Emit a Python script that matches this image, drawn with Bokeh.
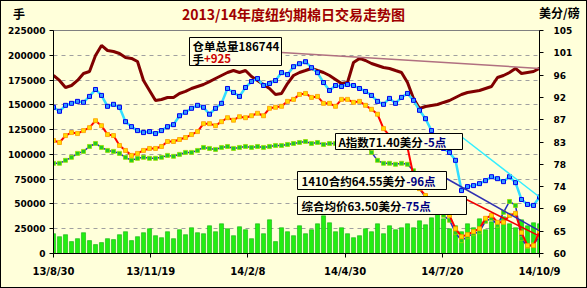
import pandas as pd
from bokeh.plotting import figure
from bokeh.layouts import column
from bokeh.models import Range1d, LinearAxis, FixedTicker, Label, BoxAnnotation, CustomJSTickFormatter, Div
from bokeh.embed import file_html
from bokeh.resources import INLINE

# ---------------- data ----------------
start_date = "2013-08-30"
end_date = "2014-10-09"
sample_step = "5D"

# 仓单总量 (手), left axis
stock = [179600, 174600, 167500, 169500, 174600, 181600, 183600, 199800, 209900, 204800,
         203800, 201800, 197800, 196800, 193700, 174600, 164500, 154400, 155400, 157400,
         157400, 161400, 163500, 166500, 168500, 170500, 173500, 176600, 179600, 182600,
         184600, 182600, 184600, 178600, 174600, 170500, 166500, 160400, 161400, 171500,
         179600, 182600, 184600, 186700, 184600, 182600, 179600, 175600, 171500, 172500,
         192700, 196800, 194700, 191700, 189700, 187700, 186700, 184600, 182600, 172500,
         156400, 146300, 148300, 149300, 150300, 152400, 154400, 157400, 160400, 162400,
         163500, 164500, 166500, 168500, 177600, 179600, 182600, 186700, 181600, 182600,
         183600, 186744]

# A指数 (美分/磅), right axis
a_index = [89.5, 88.7, 89.9, 90.3, 90.7, 90.5, 91.7, 93.1, 91.9, 89.7,
           90.1, 89.5, 86.6, 85.6, 84.8, 84.4, 84.6, 84.2, 84.8, 85.6,
           86.0, 87.8, 88.5, 89.3, 89.9, 89.5, 88.1, 89.3, 90.3, 93.3,
           92.5, 91.7, 93.5, 94.7, 95.3, 93.9, 94.3, 94.9, 96.5, 96.1,
           97.7, 98.3, 98.7, 97.5, 96.5, 94.5, 92.9, 93.9, 93.7, 94.1,
           93.9, 93.3, 92.7, 91.9, 90.7, 90.1, 91.3, 90.3, 91.5, 92.3,
           90.9, 88.9, 87.2, 84.8, 82.8, 81.2, 80.4, 78.8, 72.7, 73.5,
           73.7, 74.1, 74.7, 75.5, 75.1, 74.5, 75.5, 74.3, 70.9, 69.9,
           69.7, 71.40]

# 1410合约 (美分/磅), right axis
c1410 = [82.8, 82.4, 83.8, 84.4, 84.2, 84.8, 85.4, 86.8, 85.8, 84.0,
         83.8, 81.8, 80.8, 79.8, 80.2, 80.8, 81.2, 81.2, 81.6, 82.6,
         82.6, 83.0, 83.4, 84.0, 84.6, 86.2, 86.2, 85.8, 86.6, 87.4,
         86.9, 87.6, 87.4, 87.8, 88.3, 87.8, 89.3, 89.5, 89.7, 90.7,
         91.1, 92.1, 92.3, 91.5, 91.7, 90.3, 90.3, 89.7, 91.1, 91.1,
         90.5, 90.7, 89.9, 89.1, 88.1, 85.2, 83.8, 82.8, 82.2, 81.4,
         75.7, 73.1, 71.7, 70.7, 69.7, 68.7, 67.7, 65.0, 63.4, 63.8,
         64.4, 65.0, 67.1, 67.7, 66.3, 66.3, 67.7, 68.1, 64.2, 61.6,
         61.6, 64.55]

# 综合均价 (美分/磅), right axis
avg_price = [78.2, 78.2, 78.8, 79.4, 80.2, 80.6, 81.6, 82.2, 81.4, 80.8,
             80.6, 80.2, 79.4, 78.8, 79.2, 79.4, 79.2, 79.2, 79.4, 79.8,
             79.6, 80.0, 80.4, 80.4, 80.8, 81.4, 81.2, 81.0, 81.4, 81.6,
             81.2, 81.4, 81.6, 81.4, 81.6, 81.4, 81.6, 81.8, 81.8, 82.0,
             82.2, 82.4, 82.6, 82.2, 82.4, 82.0, 82.2, 82.2, 82.6, 82.6,
             82.4, 82.4, 82.0, 80.4, 78.8, 78.2, 78.2, 78.0, 78.2, 78.0,
             76.7, 73.1, 71.3, 69.7, 68.7, 67.7, 66.7, 64.2, 62.6, 63.4,
             64.0, 64.4, 66.5, 67.1, 65.7, 68.3, 70.5, 69.7, 63.0, 61.4,
             61.8, 63.50]

# 成交量 (手), left axis
volume = [20000, 17000, 19000, 12000, 15000, 21000, 13000, 9000, 11000, 15000,
          14000, 19000, 22000, 13000, 17000, 21000, 25000, 18000, 16000, 22000,
          15000, 24000, 19000, 26000, 21000, 20000, 28000, 22000, 30000, 25000,
          18000, 27000, 24000, 15000, 30000, 20000, 34000, 12000, 26000, 22000,
          18000, 28000, 20000, 24000, 30000, 38000, 31000, 22000, 26000, 20000,
          16000, 18000, 25000, 22000, 30000, 20000, 28000, 24000, 26000, 30000,
          26000, 33000, 29000, 36000, 40000, 35000, 25000, 28000, 22000, 30000,
          26000, 35000, 24000, 32000, 28000, 37000, 30000, 26000, 34000, 28000,
          31000, 30000]

x_tick_dates = ["2013-08-30", "2013-11-19", "2014-02-08", "2014-04-30", "2014-07-20", "2014-10-09"]
x_tick_labels = ["13/8/30", "13/11/19", "14/2/8", "14/4/30", "14/7/20", "14/10/9"]
left_ticks = [0, 25000, 50000, 75000, 100000, 125000, 150000, 175000, 200000, 225000]
left_tick_labels = ["0", "25000", "50000", "75000", "100000", "125000", "150000", "175000", "200000", "225000"]
right_ticks = [60, 64.5, 69, 73.5, 78, 82.5, 87, 91.5, 96, 100.5, 105]
right_tick_labels = ["60", "65", "69", "74", "78", "83", "87", "92", "96", "101", "105"]

title_text = "2013/14年度纽约期棉日交易走势图"
left_unit = "手"
right_unit = "美分/磅"
notes = [
    ("仓单总量186744", "", ""),
    ("手", "+925", "#CC0000"),
    ("A指数71.40美分", "-5点", "#000080"),
    ("1410合约64.55美分", "-96点", "#000080"),
    ("综合均价63.50美分", "-75点", "#000080"),
]

# ---------------- layout ----------------
BG = "#FFFFDA"
BOX_BG = "#FFFFE4"
CJK = "Noto Sans CJK SC"
NUM = "DejaVu Sans"

dates = pd.date_range(start_date, end_date, freq=sample_step)
ms = lambda d: pd.Timestamp(d).value // 10**6
x0, x1 = ms(start_date), ms(end_date)
L_MAX = 225000
R_MIN, R_MAX = 60, 105

# page-pixel frame (for placing annotations)
FL, FR, FT, FB = 53, 539, 30, 253
HEAD = 22          # header strip height (title row)
W = 585
H = 286 - HEAD


def X(px):
    return x0 + (px - FL) / (FR - FL) * (x1 - x0)


def YL(py):
    return (FB - py) / (FB - FT) * L_MAX


def YR(py):
    return R_MIN + (FB - py) / (FB - FT) * (R_MAX - R_MIN)


def text_width(s, fs):
    w = 0.0
    for ch in s:
        if ord(ch) > 0x2E80:
            w += 1.0
        elif ch.isdigit():
            w += 0.6
        elif ch == ".":
            w += 0.3
        elif ch in "+-":
            w += 0.6
        else:
            w += 0.72
    return w * fs


p = figure(width=W, height=H, x_axis_type="datetime",
           x_range=Range1d(x0, x1), y_range=Range1d(0, L_MAX),
           output_backend="svg", toolbar_location=None,
           min_border_left=FL - 1, min_border_right=W - (FR - 1),
           min_border_top=FT - 1 - HEAD, min_border_bottom=H - (FB - 1 - HEAD),
           background_fill_color=BG, border_fill_color=BG,
           outline_line_color="#808080")
p.extra_y_ranges = {"price": Range1d(R_MIN, R_MAX)}


def fmt(tick_values, tick_labels):
    return CustomJSTickFormatter(args=dict(tv=tick_values, tl=tick_labels), code="""
        for (let i = 0; i < tv.length; i++) {
            if (Math.abs(tick - tv[i]) < 1e-6 * Math.max(1, Math.abs(tv[i]))) return tl[i];
        }
        return "";
    """)


def style_axis(ax, size="9px"):
    ax.major_label_text_font = NUM
    ax.major_label_text_font_style = "bold"
    ax.major_label_text_font_size = size
    ax.major_label_text_color = "#000000"
    ax.axis_line_color = "#000000"
    ax.major_tick_line_color = "#000000"
    ax.major_tick_in = 0
    ax.major_tick_out = 4
    ax.minor_tick_line_color = None
    ax.major_label_standoff = 4


xt = [ms(d) for d in x_tick_dates]
p.xaxis.ticker = FixedTicker(ticks=xt)
p.xaxis.formatter = fmt(xt, x_tick_labels)
p.yaxis.ticker = FixedTicker(ticks=left_ticks)
p.yaxis.formatter = fmt(left_ticks, left_tick_labels)
style_axis(p.xaxis[0], "10px")
style_axis(p.yaxis[0])
p.xaxis.major_label_standoff = 8

right = LinearAxis(y_range_name="price", ticker=FixedTicker(ticks=right_ticks),
                   formatter=fmt(right_ticks, right_tick_labels))
style_axis(right)
right.major_label_standoff = 10
p.add_layout(right, "right")

p.xgrid.grid_line_color = None
p.ygrid.ticker = FixedTicker(ticks=left_ticks)
p.ygrid.grid_line_color = "#A0A0A0"
p.ygrid.grid_line_dash = "4 4"
p.ygrid.grid_line_width = 1

# volume bars
day_ms = 86400000
p.vbar(x=dates, top=volume, width=3.4 * day_ms, fill_color="#22EE11", line_color="#10B010", line_width=0.6)

# warehouse stock
p.line(dates, stock, line_color="#800000", line_width=3)

# 综合均价
p.line(dates, avg_price, y_range_name="price", line_color="#2030C0", line_width=1.5)
p.scatter(dates, avg_price, y_range_name="price", marker="square", size=4,
          fill_color="#22CC22", line_color="#99DD00", line_width=0.8)

# 1410
p.line(dates, c1410, y_range_name="price", line_color="#FF0000", line_width=2)
p.scatter(dates, c1410, y_range_name="price", marker="square", size=4,
          fill_color="#FFDD00", line_color="#FF9900", line_width=0.8)

# A index
p.line(dates, a_index, y_range_name="price", line_color="#33DDFF", line_width=2.5)
p.scatter(dates, a_index, y_range_name="price", marker="square", size=4,
          fill_color="#3399FF", line_color="#0000EE", line_width=1)

# connector lines from note boxes to the last values
end_x = dates[-1]
p.line([pd.Timestamp(X(281), unit="ms"), end_x], [YL(52), stock[-1]], line_color="#B07080", line_width=1.5)
p.line([pd.Timestamp(X(462), unit="ms"), end_x], [YR(137), a_index[-1]], y_range_name="price",
       line_color="#33EEFF", line_width=1.5)
p.line([pd.Timestamp(X(446), unit="ms"), end_x], [YR(178), c1410[-1]], y_range_name="price",
       line_color="#3030B0", line_width=1.5)
p.line([pd.Timestamp(X(466), unit="ms"), end_x], [YR(199), avg_price[-1]], y_range_name="price",
       line_color="#EE0000", line_width=1.5)

# note boxes (page-pixel placement)
boxes = [(189, 281, 37, 65), (335, 462, 133, 149), (297, 446, 171, 189), (297, 466, 196, 214)]
for l, r, t, b in boxes:
    p.add_layout(BoxAnnotation(left=X(l), right=X(r), top=YL(t), bottom=YL(b),
                               fill_color=BOX_BG, fill_alpha=1, line_color="#000000",
                               line_alpha=1, line_width=1))

FS = 11.5
note_pos = [(192, 45), (192, 58), (338, 141), (301, 180), (301, 205)]
for (main, suffix, color), (px, py) in zip(notes, note_pos):
    p.add_layout(Label(x=X(px), y=YL(py), text=main, text_font=CJK, text_font_style="bold",
                       text_font_size=f"{FS}px", text_color="#000000", text_baseline="middle"))
    if suffix:
        p.add_layout(Label(x=X(px), y=YL(py), x_offset=text_width(main, FS), text=suffix,
                           text_font=CJK, text_font_style="bold", text_font_size=f"{FS}px",
                           text_color=color, text_baseline="middle"))

# header strip: unit labels and title (outside the plot frame)
span = ("position:absolute;white-space:nowrap;font-family:'Noto Sans CJK SC',sans-serif;"
        "font-weight:bold;")
header_html = (
    f'<div style="position:relative;width:{W}px;height:{HEAD}px;">'
    f'<span style="{span}left:12px;top:6px;font-size:12px;line-height:14px;color:#000000;">{left_unit}</span>'
    f'<span style="{span}left:0px;width:{W}px;text-align:center;top:5px;font-size:14px;'
    f'line-height:16px;color:#A00000;">{title_text}</span>'
    f'<span style="{span}left:538px;top:5px;font-size:12px;line-height:14px;color:#000000;">{right_unit}</span>'
    f'</div>'
)
header = Div(text=header_html, width=W, height=HEAD, styles={"background-color": BG, "margin": "0", "padding": "0"})

page = column(header, p, spacing=0,
              styles={"border": "1px solid #000000", "background-color": BG})

open("out.html", "w").write(file_html(page, INLINE))
